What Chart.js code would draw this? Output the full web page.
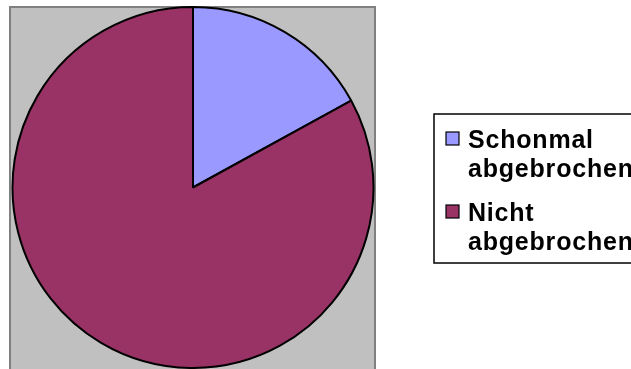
<!DOCTYPE html>
<html>
<head>
<meta charset="utf-8">
<script src="https://cdn.jsdelivr.net/npm/chart.js@4"></script>
<style>
  html, body { margin: 0; padding: 0; background: #fff; overflow: hidden; }
</style>
</head>
<body>
<canvas id="myChart" width="631" height="369"></canvas>
<script>
const categories = ['Schonmal abgebrochen', 'Nicht abgebrochen']
const legendLines = [['Schonmal', 'abgebrochen'], ['Nicht', 'abgebrochen']]
const values = [17, 83]
const colors = ['#9999FF', '#993366']

// grey plot area behind the pie
const plotBackground = {
  id: 'plotBackground',
  beforeDraw (chart) {
    const ctx = chart.ctx
    ctx.save()
    ctx.fillStyle = '#C0C0C0'
    ctx.fillRect(10, 7, 365, 364)
    ctx.strokeStyle = '#808080'
    ctx.lineWidth = 2
    ctx.strokeRect(10, 7, 365, 364)
    ctx.restore()
  }
}

// legend with wrapped labels, like the original
const boxLegend = {
  id: 'boxLegend',
  afterDraw (chart) {
    const ctx = chart.ctx
    ctx.save()
    ctx.fillStyle = '#fff'
    ctx.fillRect(434, 114, 220, 149)
    ctx.strokeStyle = '#000'
    ctx.lineWidth = 1.5
    ctx.strokeRect(434, 114, 220, 149)
    ctx.font = 'bold 25px "Liberation Sans", Arial, sans-serif'
    ctx.letterSpacing = '0.8px'
    ctx.textBaseline = 'alphabetic'
    const baselines = [148, 221]
    legendLines.forEach((lines, i) => {
      const y = baselines[i]
      ctx.fillStyle = colors[i]
      ctx.fillRect(446, y - 16, 13, 13)
      ctx.strokeStyle = '#000'
      ctx.lineWidth = 1.2
      ctx.strokeRect(446, y - 16, 13, 13)
      ctx.fillStyle = '#000'
      lines.forEach((line, j) => {
        ctx.fillText(line, 468, y + j * 29)
      })
    })
    ctx.restore()
  }
}

const ctx = document.getElementById('myChart').getContext('2d')
const myChart = new Chart(ctx, {
  type: 'pie',
  data: {
    labels: categories,
    datasets: [
      {
        data: values,
        backgroundColor: colors,
        borderColor: '#000',
        borderWidth: 2
      }
    ]
  },
  options: {
    responsive: false,
    animation: false,
    layout: {
      padding: { left: 11, right: 256, top: 6, bottom: 0 }
    },
    plugins: {
      legend: { display: false },
      tooltip: { enabled: false }
    }
  },
  plugins: [plotBackground, boxLegend]
})
</script>
</body>
</html>
